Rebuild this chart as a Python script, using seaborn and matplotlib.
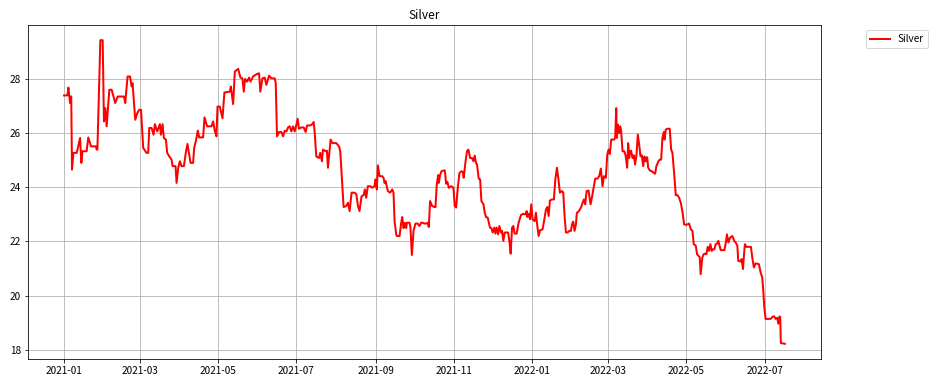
import numpy as np
import pandas as pd
import seaborn as sns
import matplotlib
matplotlib.use("Agg")
import matplotlib.pyplot as plt
import matplotlib.dates as mdates

# days since 2021-01-01 and silver price
start = "2021-01-01"
days = [
    0, 2.6, 3.4, 4.7, 5.2, 5.6, 6.2, 7.3, 9.9, 12.5, 13.5, 14.3, 17.6, 18.9, 21.0, 24.9,
    25.4, 26.0, 28.3, 30.1, 31.1, 32.2, 33.2, 35.3, 37.1, 39.9, 41.8, 46.7, 47.7, 49.5,
    51.4, 52.7, 53.4, 55.5, 57.1, 58.6, 60.0, 61.7, 64.3, 65.6, 66.4, 68.2, 69.8, 70.8,
    72.6, 74.7, 75.5, 76.8, 77.8, 79.4, 80.4, 82.0, 83.8, 84.6, 86.9, 87.7, 89.0, 90.3,
    91.6, 93.4, 94.9, 96.2, 98.6, 100.6, 101.4, 102.7, 104.3, 105.3, 108.4, 109.5, 111.5,
    114.9, 116.2, 117.5, 118.8, 119.6, 121.4, 123.5, 125.0,
    129.2, 130.0, 131.8, 133.1, 135.7, 137.5, 139.0, 140.1, 141.1, 142.7, 144.2, 145.3,
    147.3, 149.9, 152.0, 153.0, 154.6, 156.4, 157.7, 159.8, 161.6, 164.2, 165.0, 166.0,
    167.6, 169.4, 170.7, 172.0, 173.3, 174.6, 175.9, 177.2, 178.5, 179.8, 181.1, 182.1,
    183.1, 185.0, 186.8, 188.3, 189.4, 191.4, 193.0, 194.6, 195.3, 196.6, 198.7, 199.7,
    201.0, 201.8, 203.9, 204.9, 205.7, 206.5, 207.8, 209.1, 212.2, 214.3, 215.3, 216.9,
    217.9, 220.0, 221.3, 222.6, 224.1, 226.5, 227.8, 229.1, 230.3, 231.9, 233.5, 234.5,
    235.5, 236.8, 238.7, 240.2, 242.0, 242.8, 243.8, 244.6, 245.9, 248.0, 249.0, 249.8,
    250.6, 252.4, 254.2, 255.8, 256.8, 257.6, 258.9,
    259.4, 261.5, 262.8, 263.6, 264.6, 265.6, 266.7, 267.2, 269.3, 270.0, 271.1, 272.4,
    273.9, 275.7, 277.0, 278.3, 279.6, 280.9, 282.2, 283.5, 284.3, 285.3, 286.9, 288.7,
    289.5, 290.5, 291.6, 292.1, 293.1, 294.2, 295.7, 296.8, 297.8, 298.8, 299.9, 301.7,
    303.5, 304.5, 305.6, 306.9, 308.2, 309.7, 310.8, 311.5, 312.8, 314.1, 315.2, 316.5,
    318.0, 319.1, 320.1, 321.1, 321.9, 323.2, 324.3, 325.3, 326.9, 327.9, 328.9, 330.2,
    332.0, 333.1, 334.1, 335.4, 336.2, 337.2, 338.3, 339.3, 340.6, 341.4, 342.4, 343.5,
    345.0, 346.1, 347.1, 348.1, 349.2, 350.2, 351.2, 352.8, 354.3, 356.2, 358.0, 359.5,
    360.6, 361.1, 362.1, 363.2, 364.2, 365.2, 366.8, 367.8, 368.9, 369.9, 371.0, 373.0,
    374.6, 375.6, 376.7, 377.7, 378.7, 380.3, 381.8, 382.9, 384.2, 385.5,
    386.5, 388.1, 389.1, 390.2, 391.2, 392.5, 393.8, 395.1, 395.9, 396.9, 397.9, 399.0,
    399.7, 401.0, 402.9, 404.2, 405.2, 406.2, 407.3, 408.8, 410.4, 411.4, 412.5, 414.0,
    415.8, 417.1, 418.4, 419.7, 420.8, 422.3, 423.4, 424.4, 425.4, 426.5, 427.5, 428.8,
    429.6, 430.4, 430.9, 431.7, 432.7, 433.5, 434.2, 435.3, 436.6, 437.4, 437.9, 438.9,
    439.7, 440.5, 441.3, 442.0, 443.1, 444.1, 445.1, 446.2, 447.2, 448.3, 449.3, 450.3,
    451.4, 452.4, 453.4, 454.5, 455.3, 456.6, 458.1, 459.7, 460.7, 461.7, 463.3, 464.3,
    465.4, 466.4, 467.5, 468.0, 469.0, 470.3, 472.1, 473.2, 474.2, 475.5, 476.8, 478.1,
    479.4, 480.7, 482.0, 483.3, 484.6, 485.9, 487.2, 488.5, 489.8, 490.8, 492.4, 493.4,
    494.4, 495.5, 496.2, 497.5, 498.6, 499.6, 500.7, 501.7, 502.7, 503.8, 504.8, 505.8,
    506.9, 507.9, 509.0, 510.0,
    511.8, 514.7, 515.7, 516.7, 517.8, 519.1, 520.9, 522.4, 523.5, 524.8, 525.5, 527.4,
    528.1, 529.2, 530.2, 530.7, 531.8, 533.8, 535.4, 536.4, 537.7, 539.0, 541.6, 542.9,
    544.2, 545.0, 545.8, 546.8, 548.9, 550.7, 552.5, 553.6, 554.6, 555.9, 556.7, 557.7,
    558.2, 558.7, 561.9,
]
silver = [
    27.39, 27.39, 27.68, 27.11, 27.35, 27.35, 24.65, 25.27, 25.27, 25.82, 24.90, 25.33, 25.33, 25.84, 25.51, 25.51,
    25.39, 25.39, 29.43, 29.43, 26.43, 26.92, 26.25, 27.60, 27.60, 27.11, 27.35, 27.35, 27.11, 28.09,
    28.09, 27.72, 27.84, 26.49, 26.74, 26.86, 26.86, 25.45, 25.27, 25.27, 26.19, 26.19, 25.94, 26.33,
    26.06, 26.33, 25.94, 26.33, 25.82, 25.76, 25.27, 25.14, 25.02, 24.78, 24.78, 24.16, 24.72, 24.96,
    24.78, 24.78, 25.27, 25.60, 24.90, 24.90, 25.45, 25.70, 26.09, 25.84, 25.84, 26.58, 26.25,
    26.25, 26.43, 26.09, 25.88, 26.98, 26.98, 26.55, 27.50,
    27.53, 27.72, 27.07, 28.27, 28.37, 28.05, 28.02, 27.53, 28.00, 27.90, 28.05, 27.90,
    28.09, 28.17, 28.21, 27.53, 28.02, 28.05, 27.78, 28.12, 28.02, 28.02, 27.84, 25.88,
    26.04, 26.04, 25.88, 26.09, 26.06, 26.21, 26.25, 26.06, 26.25, 26.06, 26.31, 26.53,
    26.16, 26.21, 26.21, 26.04, 26.28, 26.28, 26.31, 26.41, 26.06, 25.14, 25.08, 25.27,
    24.96, 25.39, 25.33, 25.35, 24.72, 25.14, 25.76, 25.63, 25.63, 25.51, 25.33, 24.10,
    23.27, 23.31, 23.43, 23.12, 23.80, 23.80, 23.74, 23.31, 23.12, 23.67, 23.71, 23.92,
    23.61, 24.04, 24.04, 23.98, 24.04, 24.29, 23.92, 24.81, 24.41, 24.41, 24.35, 24.16,
    24.23, 23.86, 23.80, 23.92, 23.80, 22.75, 22.26,
    22.20, 22.20, 22.69, 22.90, 22.49, 22.69, 22.49, 22.69, 22.69, 22.51, 21.50, 22.39,
    22.66, 22.66, 22.57, 22.69, 22.69, 22.66, 22.66, 22.69, 22.53, 23.49, 23.31, 23.27,
    23.27, 24.10, 24.45, 24.16, 24.45, 24.59, 24.62, 24.62, 24.13, 24.20, 23.98, 24.04,
    23.98, 23.31, 23.25, 23.98, 24.53, 24.59, 24.57, 24.35, 24.90, 25.33, 25.39, 25.08,
    25.08, 24.96, 25.17, 24.90, 24.84, 24.32, 24.29, 23.49, 23.37, 23.06, 22.90, 22.88,
    22.51, 22.49, 22.33, 22.51, 22.29, 22.51, 22.26, 22.57, 22.33, 22.39, 22.02, 22.33,
    22.33, 22.33, 22.02, 21.55, 22.51, 22.57, 22.29, 22.29, 22.69, 22.98, 23.02, 23.00,
    23.12, 22.90, 23.02, 22.82, 23.37, 22.82, 22.75, 23.06, 22.57, 22.20, 22.41, 22.45,
    22.88, 23.18, 23.27, 22.94, 23.51, 23.55, 23.55, 24.29, 24.72, 24.23,
    23.80, 23.86, 23.80, 22.88, 22.33, 22.33, 22.39, 22.39, 22.63, 22.73, 22.39, 22.63,
    23.06, 23.10, 23.25, 23.43, 23.55, 23.37, 23.86, 23.88, 23.37, 23.61, 23.92, 24.32,
    24.32, 24.41, 24.69, 24.04, 24.41, 24.35, 25.21, 25.39, 25.23, 25.76, 25.76, 25.76,
    25.84, 26.92, 25.82, 26.31, 26.00, 26.25, 26.09, 25.33, 25.33, 25.23, 25.11, 24.72,
    25.63, 25.08, 25.33, 25.35, 25.08, 25.18, 24.84, 25.21, 25.94, 25.57, 25.14, 25.18,
    24.78, 25.14, 24.96, 25.11, 24.72, 24.62, 24.59, 24.53, 24.50, 24.78, 24.96, 25.02,
    25.02, 25.82, 26.04, 25.76, 26.13, 26.16, 26.16, 25.39, 25.27, 24.53, 23.71, 23.71,
    23.61, 23.43, 23.10, 22.63, 22.61, 22.63, 22.66, 22.45, 22.39, 21.90, 21.84, 21.53,
    21.47, 21.41, 20.79, 21.41, 21.53, 21.55, 21.53, 21.80, 21.65, 21.90, 21.65, 21.71,
    21.71, 21.90, 21.92, 22.02,
    21.68, 21.68, 21.92, 22.26, 21.96, 22.14, 22.20, 22.02, 21.96, 21.84, 21.28, 21.26,
    21.35, 20.98, 21.65, 21.90, 21.80, 21.80, 21.80, 21.41, 21.04, 21.19, 21.16, 20.86,
    20.67, 20.18, 19.57, 19.14, 19.14, 19.14, 19.23, 19.23, 19.14, 19.18, 18.96, 19.23,
    19.20, 18.25, 18.22,
]

df = pd.DataFrame({
    "Date": pd.Timestamp(start) + pd.to_timedelta(days, unit="D"),
    "Silver": silver,
})

plt.rcParams['font.family'] = ['Noto Sans CJK SC', 'DejaVu Sans']
plt.rcParams['font.size'] = 10

fig = plt.figure(figsize=(939 / 72, 386 / 72), dpi=72)
ax = fig.add_axes([28 / 939, 1 - 359 / 386, 793 / 939, 334 / 386])

sns.lineplot(data=df, x="Date", y="Silver", color="red", linewidth=2, label="Silver", ax=ax)

ax.xaxis.set_major_locator(mdates.MonthLocator(bymonth=[1, 3, 5, 7, 9, 11]))
ax.xaxis.set_major_formatter(mdates.DateFormatter("%Y-%m"))
ax.grid(True)
ax.set_xlabel("")
ax.set_ylabel("")
ax.set_title("Silver")
ax.legend(bbox_to_anchor=(1.05, 1), loc="upper left")

fig.savefig("out.png", dpi=72)
